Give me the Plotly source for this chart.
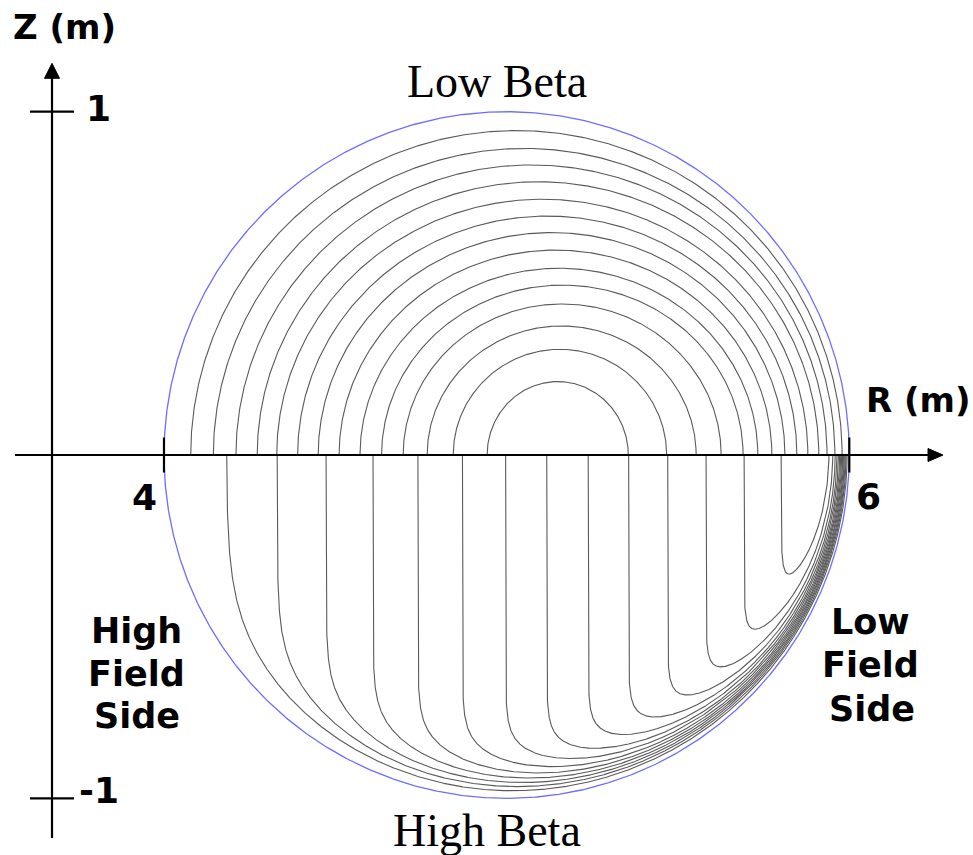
import numpy as np
import plotly.graph_objects as go

# ---------------- data (metres) ----------------
# plasma boundary (circular cross-section)
boundary_R0 = 5.0
boundary_a = 1.0

# low-beta flux surfaces (upper half): inboard / outboard midplane feet and peak height
low_beta_R_in = [4.078, 4.144, 4.210, 4.272, 4.329, 4.390, 4.450,
                 4.511, 4.572, 4.635, 4.698, 4.768, 4.844, 4.943]
low_beta_R_out = [5.979, 5.958, 5.935, 5.911, 5.879, 5.847, 5.812,
                  5.774, 5.733, 5.690, 5.626, 5.553, 5.467, 5.355]
low_beta_Z_top = [0.945, 0.893, 0.845, 0.796, 0.745, 0.696, 0.648,
                  0.597, 0.544, 0.495, 0.440, 0.376, 0.308, 0.214]

# high-beta flux surfaces (lower half): R of the straight interior section
high_beta_R_leg = [4.178, 4.330, 4.473, 4.610, 4.741, 4.871, 4.997,
                   5.117, 5.238, 5.356, 5.470, 5.582, 5.693, 5.801]

r_tick_vals = [4, 6]
r_tick_text = ["4", "6"]
z_tick_vals = [1, -1]
z_tick_text = ["1", "-1"]

# ---------------- geometry helpers ----------------
R_RANGE = [3.5214, 6.3610]
Z_RANGE = [-1.1651, 1.3254]
AXIS_R = 3.6732          # R where the vertical (Z) axis is drawn


def layer_width(th):
    """Thickness of the edge current layer versus poloidal angle."""
    g = (1 - np.cos(th)) / 2
    return 0.018 + 0.025 * np.tanh(3 * g)


def core_flux(x):
    return np.sqrt(1 + x)


def psi_high_beta(x, z):
    r = np.hypot(x, z)
    th = np.arctan2(z, x)
    return core_flux(x) * (1 - np.exp(-(1 - r) / layer_width(th)))


def midplane_crossings(level, x_leg):
    xs = np.linspace(x_leg, 1.0, 20001)
    p = psi_high_beta(xs, np.zeros_like(xs))
    xk = xs[np.argmax(p)]

    def bisect(lo, hi, rising):
        for _ in range(90):
            mid = 0.5 * (lo + hi)
            val = psi_high_beta(np.array(mid), np.array(0.0)) - level
            if (val < 0) == rising:
                lo = mid
            else:
                hi = mid
        return 0.5 * (lo + hi)

    return bisect(x_leg, xk, True), bisect(xk, 1.0, False)


def lower_branch(x, level):
    lo = -np.sqrt(np.clip(1 - x ** 2, 0, None))
    hi = np.zeros_like(x)
    for _ in range(70):
        mid = 0.5 * (lo + hi)
        above = psi_high_beta(x, mid) > level
        hi = np.where(above, mid, hi)
        lo = np.where(above, lo, mid)
    return 0.5 * (lo + hi)


def high_beta_surface(R_leg):
    x_leg = (R_leg - boundary_R0) / boundary_a
    level = core_flux(x_leg)
    x0, x1 = midplane_crossings(level, x_leg)
    ends = np.logspace(-13, -0.5, 500)
    s = np.unique(np.concatenate([ends, 1 - ends, np.linspace(0, 1, 2001)[1:-1]]))
    x = x0 + (x1 - x0) * s
    z = lower_branch(x, level)
    x = np.concatenate([[x0], x, [x1]])
    z = np.concatenate([[0.0], z, [0.0]])
    return boundary_R0 + boundary_a * x, boundary_a * z


# ---------------- traces ----------------
fig = go.Figure()
SURF_COLOR = "#5a5a5a"

t = np.linspace(0, np.pi, 500)
up_R, up_Z = [], []
for r_in, r_out, z_top in zip(low_beta_R_in, low_beta_R_out, low_beta_Z_top):
    c, w = (r_in + r_out) / 2, (r_out - r_in) / 2
    up_R += list(c - w * np.cos(t)) + [None]
    up_Z += list(z_top * np.sin(t)) + [None]

fig.add_trace(go.Scatter(x=up_R, y=up_Z, mode="lines",
                         line=dict(color=SURF_COLOR, width=1.1),
                         hoverinfo="skip", showlegend=False))

lo_R, lo_Z = [], []
for R_leg in high_beta_R_leg:
    rr, zz = high_beta_surface(R_leg)
    lo_R += list(rr) + [None]
    lo_Z += list(zz) + [None]

fig.add_trace(go.Scatter(x=lo_R, y=lo_Z, mode="lines",
                         line=dict(color=SURF_COLOR, width=1.1),
                         hoverinfo="skip", showlegend=False))

th = np.linspace(0, 2 * np.pi, 1200)
fig.add_trace(go.Scatter(x=boundary_R0 + boundary_a * np.cos(th),
                         y=boundary_a * np.sin(th), mode="lines",
                         line=dict(color="#6e6eff", width=1.3),
                         hoverinfo="skip", showlegend=False))

# ---------------- axes drawn as shapes ----------------
shapes = [
    # R axis
    dict(type="line", x0=3.5652, x1=6.235, y0=0, y1=0,
         line=dict(color="black", width=2.2), layer="above"),
    # Z axis
    dict(type="line", x0=AXIS_R, x1=AXIS_R, y0=-1.1157, y1=1.10,
         line=dict(color="black", width=2.2), layer="above"),
    # arrow heads
    dict(type="path", xsizemode="pixel", ysizemode="pixel",
         xanchor=6.2735, yanchor=0, path="M 0,0 L -15,6.5 L -15,-6.5 Z",
         fillcolor="black", line=dict(color="black", width=1), layer="above"),
    dict(type="path", xsizemode="pixel", ysizemode="pixel",
         xanchor=AXIS_R, yanchor=1.1409, path="M 0,0 L -7.5,-15 L 7.5,-15 Z",
         fillcolor="black", line=dict(color="black", width=1), layer="above"),
]
for rv in r_tick_vals:
    shapes.append(dict(type="line", x0=rv, x1=rv, ysizemode="pixel", yanchor=0,
                       y0=-17.5, y1=17.5, line=dict(color="black", width=2.2),
                       layer="above"))
for zv in z_tick_vals:
    shapes.append(dict(type="line", y0=zv, y1=zv, xsizemode="pixel", xanchor=AXIS_R,
                       x0=-22, x1=22, line=dict(color="black", width=2.2),
                       layer="above"))

SANS = "DejaVu Sans"
SERIF = "Liberation Serif"

annotations = []


def label(text, x, y, size, family=SANS, xref="x", yref="y", xshift=0, yshift=0,
          bold=True):
    annotations.append(dict(
        text=f"<b>{text}</b>" if bold else text, x=x, y=y, xref=xref, yref=yref,
        xanchor="center", yanchor="middle", showarrow=False,
        xshift=xshift, yshift=yshift,
        font=dict(family=family, size=size, color="black")))


# tick labels
label(r_tick_text[0], r_tick_vals[0], 0, 36, xshift=-19, yshift=-42)
label(r_tick_text[1], r_tick_vals[1], 0, 36, xshift=19, yshift=-41.5)
label(z_tick_text[0], AXIS_R, z_tick_vals[0], 36, xshift=46, yshift=3.4)
label(z_tick_text[1], AXIS_R, z_tick_vals[1], 36, xshift=47, yshift=8.3)

# axis titles
label("Z (m)", 64.7 / 973, 1 - 26.7 / 855, 34, xref="paper", yref="paper")
label("R (m)", 918.3 / 973, 1 - 400 / 855, 34, xref="paper", yref="paper")

# regime labels
label("Low Beta", 497.5 / 973, 1 - 81.7 / 855, 46, family=SERIF,
      xref="paper", yref="paper", bold=False)
label("High Beta", 487.5 / 973, 1 - 830 / 855, 46, family=SERIF,
      xref="paper", yref="paper", bold=False)

for word, py in zip(["High", "Field", "Side"], [630.8, 673.5, 715.8]):
    label(word, 136.7 / 973, 1 - py / 855, 35, xref="paper", yref="paper")
for word, px, py in zip(["Low", "Field", "Side"], [870.8, 870.5, 871.7],
                        [622, 665.3, 708.7]):
    label(word, px / 973, 1 - py / 855, 35, xref="paper", yref="paper")

fig.update_layout(
    width=973, height=855,
    margin=dict(l=0, r=0, t=0, b=0),
    paper_bgcolor="white", plot_bgcolor="white",
    xaxis=dict(range=R_RANGE, visible=False, fixedrange=True),
    yaxis=dict(range=Z_RANGE, visible=False, fixedrange=True),
    shapes=shapes, annotations=annotations,
)

fig.write_html("out.html")
